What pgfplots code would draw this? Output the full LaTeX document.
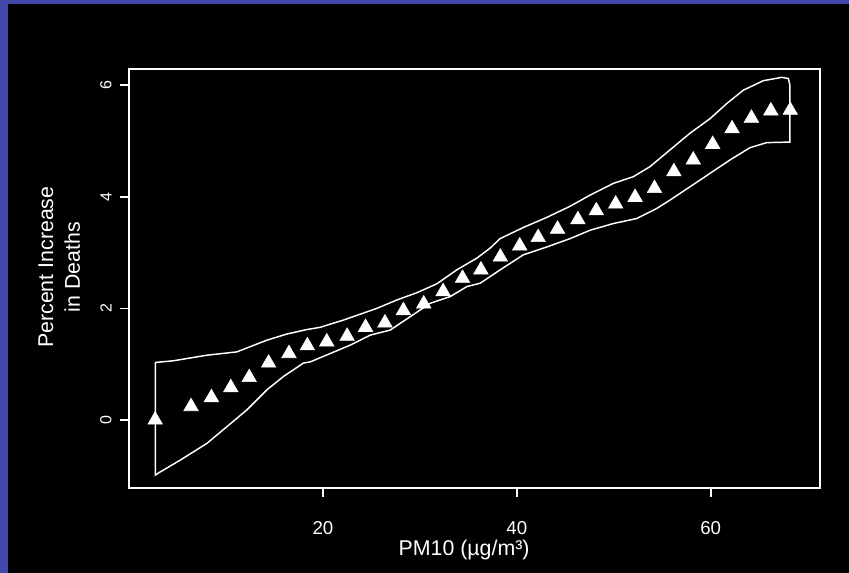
\documentclass[border=0pt]{standalone}
\usepackage{pgfplots}
\pgfplotsset{compat=1.18}
\usepackage{fontspec}
\setmainfont{Liberation Sans}
\definecolor{bordblue}{RGB}{66,72,170}
\begin{document}
\begin{tikzpicture}[x=0.75pt,y=0.75pt]
\fill[black] (0,0) rectangle (849,573);
\fill[bordblue] (0,0) rectangle (8,573);
\fill[bordblue] (0,569) rectangle (849,573);
\begin{axis}[
  at={(96.75pt,63.75pt)}, anchor=south west,
  scale only axis, width=518.25pt, height=314.25pt,
  xmin=0, xmax=71.27, ymin=-1.22, ymax=6.29,
  axis line style={white, line width=1.3pt},
  tick style={white, line width=1.2pt},
  tick align=outside, major tick length=6.5pt,
  xtick pos=bottom, ytick pos=left,
  xtick={20,40,60}, ytick={0,2,4,6},
  /pgf/number format/assume math mode=true,
  ticklabel style={text=white},
  xticklabel style={font=\fontsize{14}{16}\selectfont, yshift=-15pt},
  yticklabel style={xshift=-3pt, rotate=90, anchor=south, font=\fontsize{12}{14}\selectfont},
  xlabel={PM10 (µg/m³)},
  xlabel style={text=white, font=\fontsize{16}{18}\selectfont, at={(axis description cs:0.485,-0.148)}, anchor=center},
  ylabel={Percent Increase\\in Deaths},
  ylabel style={text=white, align=center, font=\fontsize{16}{20}\selectfont, at={(axis description cs:-0.101,0.527)}, anchor=center},
  clip=false,
]
\addplot[white, line width=1.1pt] coordinates {
(2.71,1.03) (4.57,1.06) (8.04,1.16) (11.13,1.22) (14.23,1.43) (16.29,1.54) (18.35,1.62) (19.72,1.66)
(22.12,1.79) (25.57,2.00) (27.63,2.15) (29.69,2.28) (31.75,2.44) (33.81,2.69) (35.88,2.90) (37.25,3.08)
(38.28,3.25) (40.68,3.45) (43.09,3.63) (45.50,3.83) (47.56,4.03) (49.96,4.24) (52.02,4.36) (53.74,4.54)
(55.80,4.84) (57.87,5.14) (59.93,5.40) (61.65,5.67) (63.36,5.91) (65.42,6.08) (67.32,6.14) (68.0,6.12)
(68.17,6.0) (68.17,4.98)
(65.77,4.97) (64.05,4.88) (61.99,4.66) (59.93,4.42) (57.87,4.18) (55.80,3.94) (54.43,3.79) (52.37,3.61)
(49.96,3.52) (47.56,3.40) (45.50,3.25) (43.09,3.10) (40.68,2.96) (38.28,2.69) (36.22,2.45) (34.85,2.39)
(33.12,2.21) (31.06,2.09) (29.0,1.85) (26.94,1.61) (24.88,1.52) (22.81,1.34) (20.75,1.19) (18.69,1.04)
(18.0,1.02) (15.94,0.78) (14.23,0.54) (12.16,0.18) (10.10,-0.12) (8.04,-0.42) (5.29,-0.72) (3.05,-0.95)
(2.71,-0.99) (2.71,1.03)
};
\addplot[only marks, mark=triangle*, mark size=6.3pt, white] coordinates {
(2.7,0.00) (6.4,0.24) (8.5,0.40) (10.5,0.58) (12.4,0.76) (14.4,1.02) (16.5,1.19) (18.4,1.33)
(20.4,1.40) (22.5,1.50) (24.4,1.66) (26.4,1.74) (28.3,1.96) (30.4,2.08) (32.4,2.30) (34.4,2.54)
(36.3,2.69) (38.3,2.92) (40.3,3.12) (42.2,3.27) (44.2,3.42) (46.3,3.59) (48.2,3.75) (50.2,3.87)
(52.2,3.99) (54.2,4.15) (56.2,4.45) (58.2,4.66) (60.2,4.94) (62.2,5.22) (64.2,5.41) (66.2,5.54)
(68.2,5.55)
};
\end{axis}
\pgfresetboundingbox
\useasboundingbox (0,0) rectangle (849,573);
\end{tikzpicture}
\end{document}
